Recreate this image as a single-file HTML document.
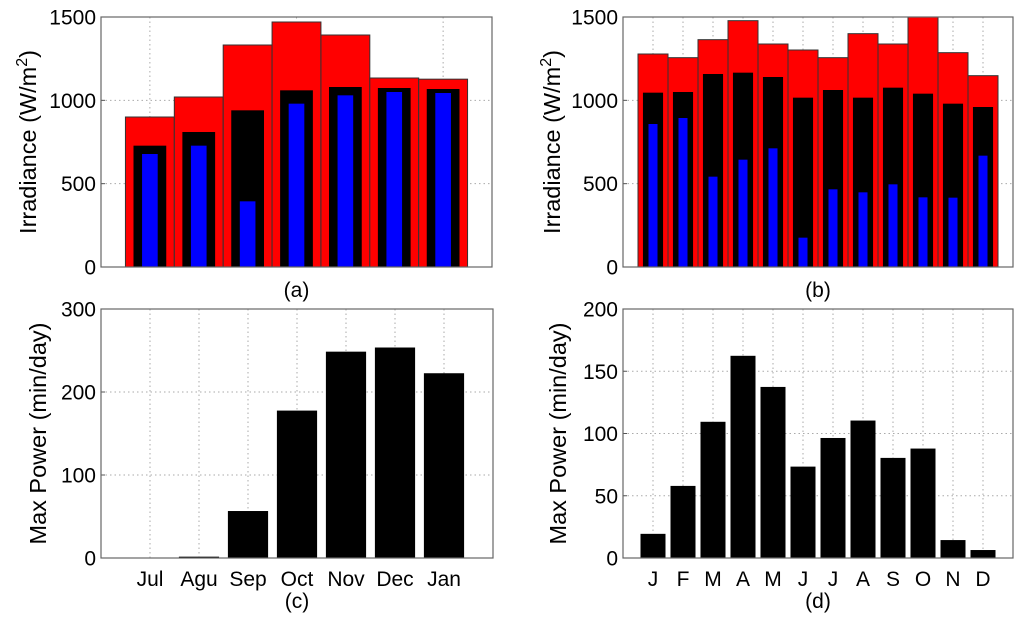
<!DOCTYPE html>
<html><head><meta charset="utf-8"><style>
html,body{margin:0;padding:0;background:#fff;width:1024px;height:623px;overflow:hidden}
svg text{font-family:"Liberation Sans",Arial,sans-serif;fill:#000}
</style></head><body>
<svg id="fig" width="1024" height="623" viewBox="0 0 1024 623" xmlns="http://www.w3.org/2000/svg"></svg>
<script>
const aRed=[900,1020,1332,1470,1392,1134,1127];
const aBlack=[728,810,940,1060,1080,1074,1068];
const aBlue=[678,728,394,980,1030,1050,1044];
const bRed=[1278,1256,1364,1478,1338,1302,1256,1400,1338,1560,1286,1148];
const bBlack=[1046,1050,1158,1166,1140,1016,1062,1016,1076,1040,980,960];
const bBlue=[858,894,542,644,712,176,466,448,496,418,416,668];
const cCats=["Jul","Agu","Sep","Oct","Nov","Dec","Jan"];
const cVals=[0,1,56,177,248,253,222];
const dCats=["J","F","M","A","M","J","J","A","S","O","N","D"];
const dVals=[19,57.5,109,162,137,73,96,110,80,87.5,14,6];
const irrTicks=[0,500,1000,1500];
const cTicks=[0,100,200,300];
const dTicks=[0,50,100,150,200];

const NS="http://www.w3.org/2000/svg";
const svg=document.getElementById('fig');
function mk(tag,attrs,parent){const e=document.createElementNS(NS,tag);for(const k in attrs)e.setAttribute(k,attrs[k]);(parent||svg).appendChild(e);return e;}

function panel(id,L,R,T,B,xmax,ymax,yTicks,xGrid,xLabels,label,ytitle,titleX,sup){
  const g=mk('g',{});
  
  
  const sx=v=>L+(v/xmax)*(R-L);
  const sy=v=>B-(Math.min(v,ymax)/ymax)*(B-T);
  const grid=mk('g',{},g);
  
  
  yTicks.forEach(t=>{
    if(t>0&&t<ymax){const l=mk('line',{x1:L,x2:R,y1:sy(t),y2:sy(t),stroke:'#aaa','stroke-dasharray':'1.5,3','stroke-width':1},grid);
    }
    const tx=mk('text',{x:L-5,y:sy(t)+7.5,'font-size':21,'text-anchor':'end'},g);
    tx.textContent=t;
    
    const tk=mk('line',{x1:L,x2:L+4,y1:sy(t),y2:sy(t),stroke:'#555'},g);
    
  });
  xGrid.forEach(v=>{const l=mk('line',{x1:sx(v),x2:sx(v),y1:T,y2:B,stroke:'#aaa','stroke-dasharray':'1.5,3','stroke-width':1},grid);
    });
  if(xLabels){xLabels.forEach((c,i)=>{const tx=mk('text',{x:sx(i+1),y:B+28,'font-size':21,'text-anchor':'middle'},g);
    tx.textContent=c;});}
  const lb=mk('text',{x:(L+R)/2,y:xLabels?B+50:B+30,'font-size':21,'text-anchor':'middle'},g);
  lb.textContent=label;
  const cy=(T+B)/2;
  const yt=mk('text',{x:titleX,y:cy,'font-size':23.5,'text-anchor':'middle',transform:`rotate(-90 ${titleX} ${cy})`},g);
  
  if(sup){yt.innerHTML='Irradiance (W/m<tspan dy="-9" font-size="16">2</tspan><tspan dy="9">)</tspan>';}
  else yt.textContent=ytitle;
  return {g,sx,sy,L,R,T,B};
}
function bars(p,vals,w,fill,name,stroke){
  vals.forEach((v,i)=>{const x0=p.sx(i+1-w/2),x1=p.sx(i+1+w/2);
    const r=mk('rect',{x:x0,y:p.sy(v),width:x1-x0,height:p.B-p.sy(v),fill:fill,stroke:stroke||'none','stroke-width':stroke?1:0},p.g);
    });
}
function frame(p){const r=mk('rect',{x:p.L,y:p.T,width:p.R-p.L,height:p.B-p.T,fill:'none',stroke:'#666','stroke-width':1.2},p.g);
  }

const pa=panel('panel-a',101,492,17,267,8,1500,irrTicks,[1,4,7],null,'(a)','',36,true);
bars(pa,aRed,1,'#ff0000','bar-red','#333');bars(pa,aBlack,0.67,'#000','bar-black');bars(pa,aBlue,0.32,'#0000ff','bar-blue');frame(pa);

const pb=panel('panel-b',623,1013,17,267,13,1500,irrTicks,[1,2,3,4,5,6,7,8,9,10,11,12],null,'(b)','',560,true);
bars(pb,bRed,1,'#ff0000','bar-red','#333');bars(pb,bBlack,0.67,'#000','bar-black');bars(pb,bBlue,0.3,'#0000ff','bar-blue');frame(pb);

const pc=panel('panel-c',101,493,309,558,8,300,cTicks,[1,2,3,4,5,6,7],cCats,'(c)','Max Power (min/day)',46,false);
bars(pc,cVals,0.8,'#000','bar-black','#000');frame(pc);

const pd=panel('panel-d',623,1013,309,558,13,200,dTicks,[1,2,3,4,5,6,7,8,9,10,11,12],dCats,'(d)','Max Power (min/day)',566,false);
bars(pd,dVals,0.8,'#000','bar-black','#000');frame(pd);
</script>
</body></html>
